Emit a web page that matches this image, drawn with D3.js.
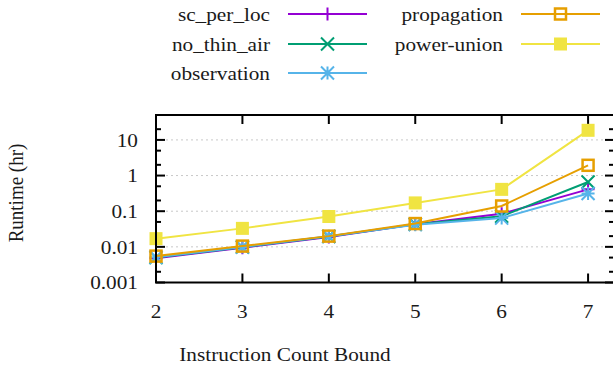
<!DOCTYPE html>
<html><head><meta charset="utf-8">
<script src="https://cdn.jsdelivr.net/npm/d3@7"></script>
<style>
html,body{margin:0;padding:0;background:#fff;}
svg{display:block;}
</style></head>
<body><svg id="c" width="613" height="368"></svg>
<script>
const xValues = [2, 3, 4, 5, 6, 7];
const seriesNames = ["sc_per_loc", "no_thin_air", "observation", "propagation", "power-union"];
const scPerLoc    = [0.0048, 0.0095, 0.019, 0.043, 0.085, 0.41];
const noThinAir   = [0.0050, 0.0098, 0.0195, 0.043, 0.072, 0.66];
const observation = [0.0051, 0.0099, 0.0197, 0.042, 0.064, 0.315];
const propagation = [0.0055, 0.0105, 0.020, 0.045, 0.14, 1.94];
const powerUnion  = [0.017, 0.033, 0.071, 0.171, 0.41, 18.6];
const yTickValues = [0.001, 0.01, 0.1, 1, 10];
const yTickLabels = ["0.001", "0.01", "0.1", "1", "10"];
const xLabel = "Instruction Count Bound";
const yLabel = "Runtime (hr)";

const colors = ["#9400d3", "#009e73", "#56b4e9", "#e69f00", "#f0e442"];
const markers = ["plus", "cross", "star", "openSquare", "filledSquare"];
const seriesData = [scPerLoc, noThinAir, observation, propagation, powerUnion];
const FONT = "'Liberation Serif'";
const SX = 1.12;

const svg = d3.select("#c");
const L = 156, R = 614, T = 115, B = 282.5;
const x = d3.scaleLinear().domain([2, 7.3]).range([L, R]);
const y = d3.scaleLog().domain([0.001, 50]).range([B, T]);

// grid
svg.append("g").selectAll("line").data(yTickValues.filter(v => v > 0.001)).join("line")
  .attr("x1", L).attr("x2", R).attr("y1", d => y(d)).attr("y2", d => y(d))
  .attr("stroke", "#c8c8c8").attr("stroke-width", 1).attr("stroke-dasharray", "2,3");

// minor ticks
const minor = [];
for (let e = -3; e <= 1; e++) for (const m of [2, 5]) { const v = m * Math.pow(10, e); if (v < 50) minor.push(v); }

const axisG = svg.append("g");
function drawSide(xpos, dir) {
  axisG.selectAll(null).data(yTickValues).join("line")
    .attr("x1", xpos).attr("x2", xpos + dir * 9).attr("y1", d => y(d)).attr("y2", d => y(d))
    .attr("stroke", "#000").attr("stroke-width", 2);
  axisG.selectAll(null).data(minor).join("line")
    .attr("x1", xpos).attr("x2", xpos + dir * 5).attr("y1", d => y(d)).attr("y2", d => y(d))
    .attr("stroke", "#000").attr("stroke-width", 2);
}
drawSide(L, 1);
drawSide(R, -1);
axisG.selectAll(null).data(xValues).join("line")
  .attr("x1", d => x(d)).attr("x2", d => x(d)).attr("y1", B).attr("y2", B - 9)
  .attr("stroke", "#000").attr("stroke-width", 2);
axisG.selectAll(null).data(xValues).join("line")
  .attr("x1", d => x(d)).attr("x2", d => x(d)).attr("y1", T).attr("y2", T + 9)
  .attr("stroke", "#000").attr("stroke-width", 2);

function label(parent, str, tx, ty, anchor, dy, rotate) {
  const tr = rotate ? `translate(${tx},${ty}) scale(${SX},1) rotate(-90)` : `translate(${tx},${ty}) scale(${SX},1)`;
  return parent.append("text").attr("transform", tr)
    .attr("text-anchor", anchor).attr("dy", dy || 0)
    .style("font-family", FONT).style("font-size", "19px").style("fill", "#1a1a1a")
    .text(str);
}

const tg = svg.append("g");
yTickValues.forEach((v, i) => label(tg, yTickLabels[i], 138, y(v), "end", "0.35em"));
xValues.forEach(v => label(tg, String(v), x(v), 318, "middle"));
label(tg, xLabel, 285, 361, "middle");
label(tg, yLabel, 23, 193, "middle", 0, true);

function drawMarker(g, type, cx, cy, color) {
  const s = 6.5;
  if (type === "plus") {
    g.append("path").attr("d", `M${cx - s},${cy}H${cx + s}M${cx},${cy - s}V${cy + s}`)
      .attr("stroke", color).attr("stroke-width", 2).attr("fill", "none");
  } else if (type === "cross") {
    g.append("path").attr("d", `M${cx - s},${cy - s}L${cx + s},${cy + s}M${cx - s},${cy + s}L${cx + s},${cy - s}`)
      .attr("stroke", color).attr("stroke-width", 2).attr("fill", "none");
  } else if (type === "star") {
    g.append("path").attr("d", `M${cx - s},${cy}H${cx + s}M${cx},${cy - s}V${cy + s}M${cx - s},${cy - s}L${cx + s},${cy + s}M${cx - s},${cy + s}L${cx + s},${cy - s}`)
      .attr("stroke", color).attr("stroke-width", 2).attr("fill", "none");
  } else if (type === "openSquare") {
    g.append("rect").attr("x", cx - s + 1).attr("y", cy - s + 1).attr("width", 2 * s - 2).attr("height", 2 * s - 2)
      .attr("stroke", color).attr("stroke-width", 2.5).attr("fill", "none");
  } else {
    g.append("rect").attr("x", cx - s).attr("y", cy - s).attr("width", 2 * s).attr("height", 2 * s)
      .attr("fill", color);
  }
}

const line = d3.line().x((d, i) => x(xValues[i])).y(d => y(d));
const plotG = svg.append("g");
seriesData.forEach((vals, si) => {
  const g = plotG.append("g");
  g.append("path").datum(vals).attr("d", line).attr("fill", "none")
    .attr("stroke", colors[si]).attr("stroke-width", 2);
  vals.forEach((v, i) => drawMarker(g, markers[si], x(xValues[i]), y(v), colors[si]));
});

// frame
svg.append("path").attr("d", `M${L},${T}H${R}V${B}H${L}Z`).attr("fill", "none")
  .attr("stroke", "#000").attr("stroke-width", 2);

// legend
const legendPos = [
  {tx: 270, lx1: 288, lx2: 367, y: 14},
  {tx: 270, lx1: 288, lx2: 367, y: 44},
  {tx: 270, lx1: 288, lx2: 367, y: 73},
  {tx: 503, lx1: 521, lx2: 600, y: 14},
  {tx: 503, lx1: 521, lx2: 600, y: 44}
];
const lg = svg.append("g");
seriesNames.forEach((name, si) => {
  const p = legendPos[si];
  label(lg, name, p.tx, p.y, "end", "0.35em");
  lg.append("line").attr("x1", p.lx1).attr("x2", p.lx2).attr("y1", p.y).attr("y2", p.y)
    .attr("stroke", colors[si]).attr("stroke-width", 2);
  drawMarker(lg, markers[si], (p.lx1 + p.lx2) / 2, p.y, colors[si]);
});
</script></body></html>
